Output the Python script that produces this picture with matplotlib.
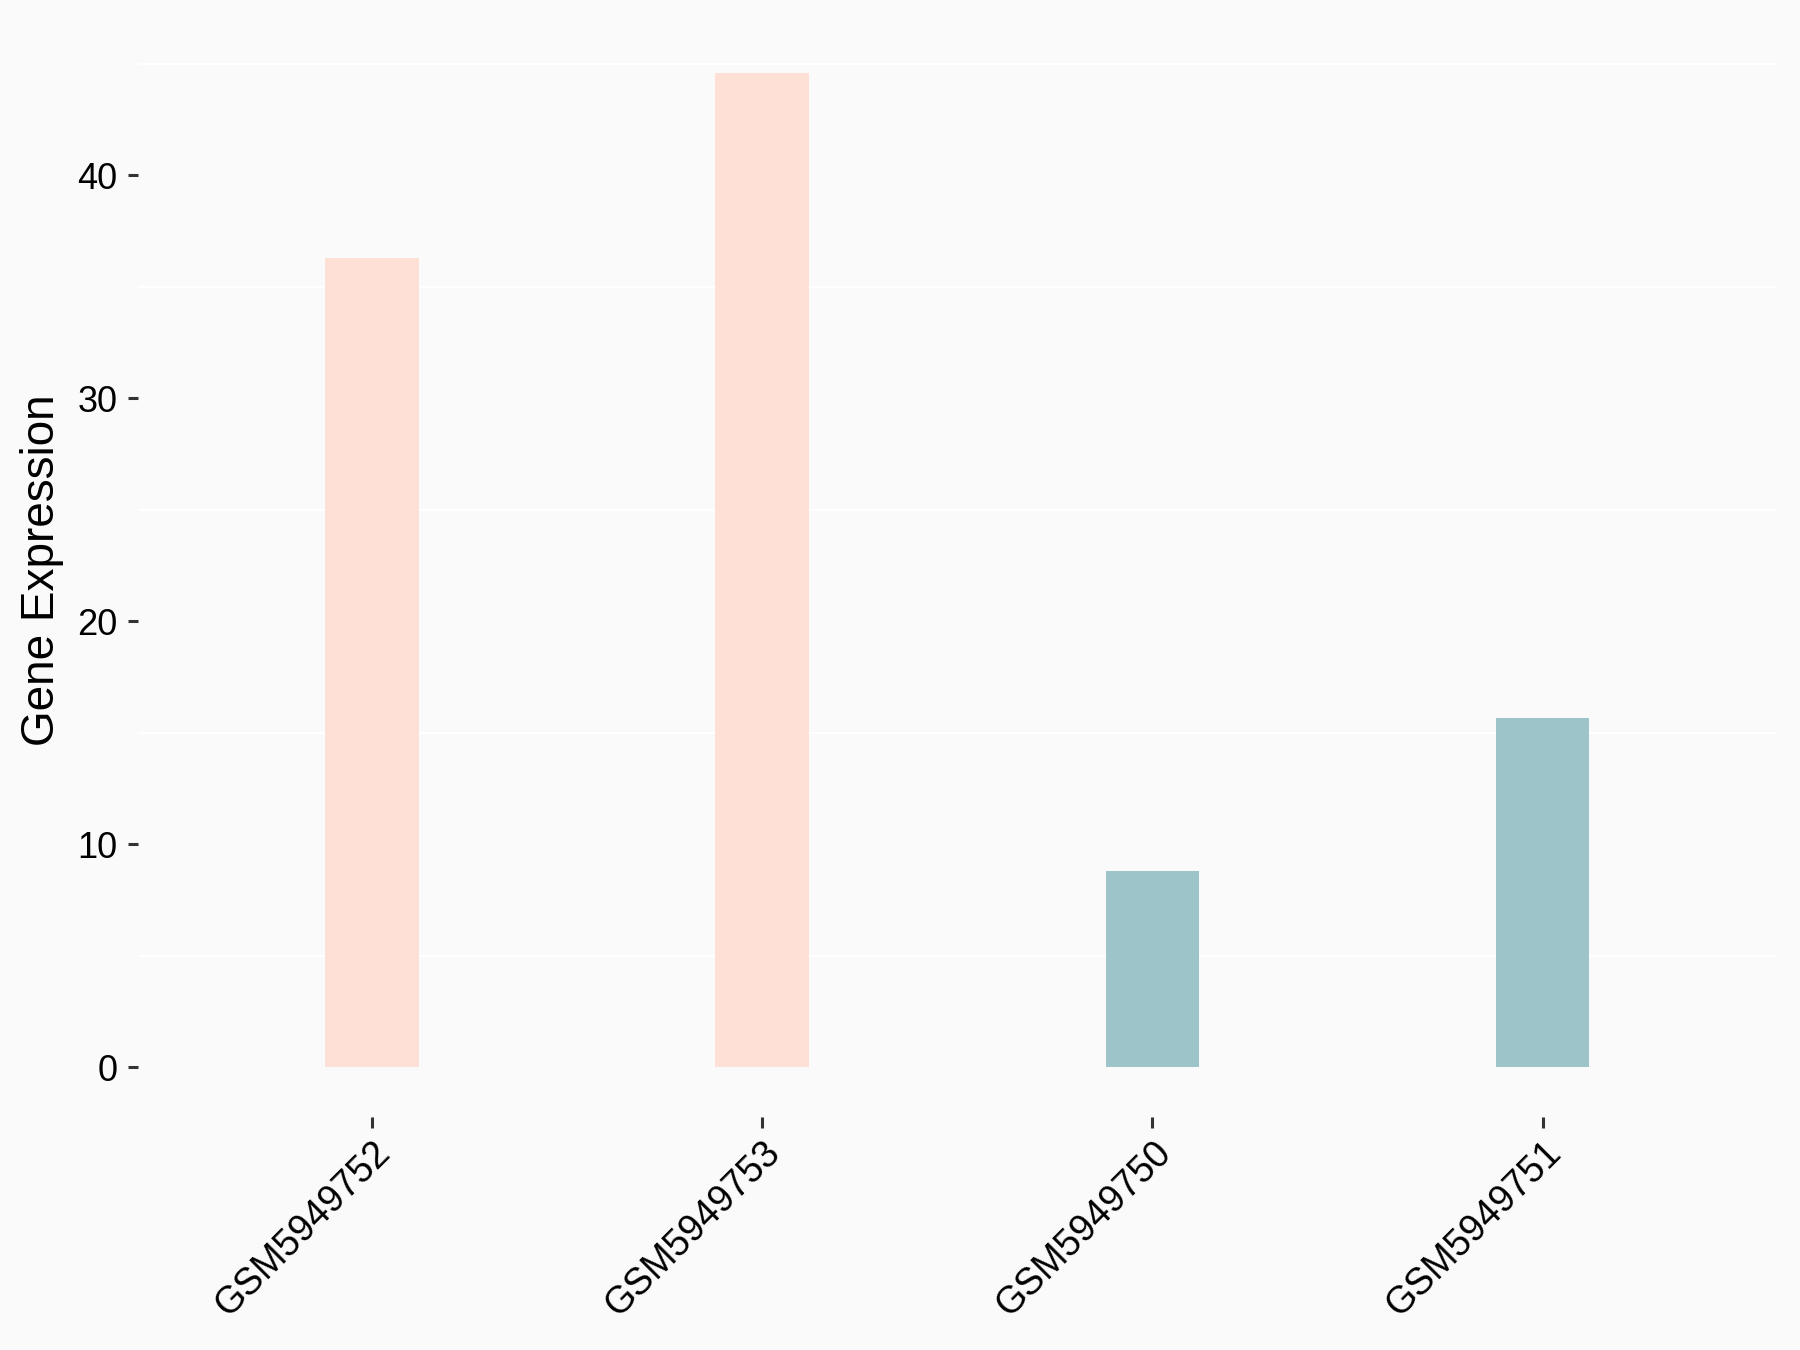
import numpy as np
import matplotlib
matplotlib.use('Agg')
import matplotlib.pyplot as plt

samples = ['GSM5949752', 'GSM5949753', 'GSM5949750', 'GSM5949751']
expression = [36.3, 44.6, 8.8, 15.65]
bar_colors = ['#FEE0D6', '#FEE0D6', '#9DC4C8', '#9DC4C8']
y_ticks = [0, 10, 20, 30, 40]
grid_levels = [5, 15, 25, 35, 45]

plt.rcParams['font.family'] = ['Liberation Sans', 'DejaVu Sans']

bg = '#FAFAFA'
fig = plt.figure(figsize=(18, 13.5), dpi=100, facecolor=bg)
ax = fig.add_axes([0.0767, 0.1726, 0.9103, 0.8104])
ax.set_facecolor(bg)

x = np.arange(len(samples))
for g in grid_levels:
	ax.axhline(g, color='white', lw=1.6, zorder=1)
ax.bar(x, expression, width=0.24, color=bar_colors, zorder=2)

ymax = max(expression)
ax.set_xlim(-0.6, len(samples) - 0.4)
ax.set_ylim(-0.05 * ymax, 1.05 * ymax)

for s in ax.spines.values():
	s.set_visible(False)

ax.set_xticks(x)
ax.set_xticklabels(samples, rotation=45, ha='right', va='top', rotation_mode='anchor')
ax.set_yticks(y_ticks)
ax.tick_params(axis='x', length=8, width=2.2, color='#333333', pad=5, labelsize=27, labelcolor='black')
ax.tick_params(axis='y', length=7, width=2.2, color='#333333', pad=8, labelsize=26, labelcolor='black')

ax.set_ylabel('Gene Expression', fontsize=33, color='black')
ax.yaxis.set_label_coords(-0.0586, 0.5)
ax.yaxis.label.set_verticalalignment('center')

fig.savefig('out.png', dpi=100, facecolor=bg)
